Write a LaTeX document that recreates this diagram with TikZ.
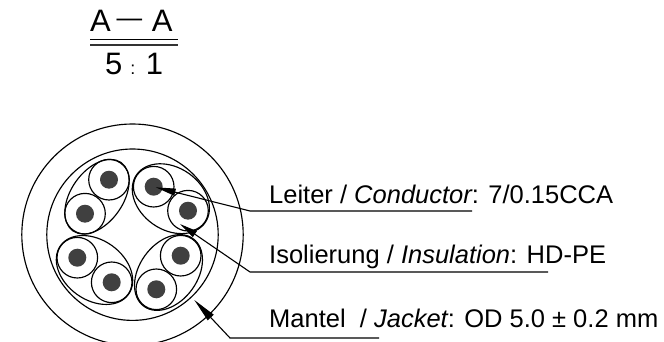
\documentclass[tikz,border=0pt]{standalone}
\usepackage{fontspec}
\setmainfont{Liberation Sans}
\usetikzlibrary{arrows.meta}
\tikzset{
  wire/.style={line width=1.15pt,draw=black},
  cond/.style={fill=black!75,draw=none},
  leader/.style={line width=1.1pt,draw=black},
  label/.style={anchor=base west,inner sep=0pt,font=\fontsize{25.5}{28}\selectfont},
  big/.style={anchor=base west,inner sep=0pt,font=\fontsize{31}{34}\selectfont}
}
\newcommand{\wirepair}[6]{%
  \fill[cond] (#1,#2) circle (9pt);
  \fill[cond] (#3,#4) circle (9pt);
  \draw[wire] (#1,#2) circle (20.3pt);
  \draw[wire] (#3,#4) circle (20.3pt);
  \draw[wire,rotate around={#5:({(#1+#3)/2},{(#2+#4)/2})}] ({(#1+#3)/2},{(#2+#4)/2}) ellipse (41.8pt and #6pt);
}
\begin{document}
\begin{tikzpicture}[x=1pt,y=-1pt]
\useasboundingbox (0,0) rectangle (664,342);
% title
\node[big] (titleA) at (90,31.7) {A\hspace{5.7pt}\raisebox{5pt}{\fontsize{25.6}{26}\selectfont —}\hspace{9.7pt}A};
\node[big] (scale) at (105,75) {5\hspace{8pt}{\fontsize{18}{18}\selectfont :}\hspace{10.5pt}1};
\coordinate (r1a) at (90,39.3); \coordinate (r1b) at (178,39.3);
\coordinate (r2a) at (90,44.7); \coordinate (r2b) at (178,44.7);
\draw[line width=1.1pt] (r1a) -- (r1b);
\draw[line width=2pt,draw=black!80] (r2a) -- (r2b);
% cable
\coordinate (c) at (132.5,234.7);
\draw[wire] (c) circle (110.7pt);
\draw[wire] (c) circle (85.7pt);
\wirepair{109}{179.7}{85}{213.7}{54.8}{26}
\wirepair{153.7}{186.7}{188}{210.7}{-35}{31}
\wirepair{77.3}{257.7}{111.7}{282.3}{-35.6}{30}
\wirepair{180.7}{255.7}{156.3}{289.3}{54}{29}
% labels
\node[label] (lc) at (269,204) {Leiter / {\itshape Conductor}: 7/0.15CCA};
\node[label] (li) at (269,263.3) {Isolierung / {\itshape Insulation}: HD-PE};
\node[label] (lj) at (269,327.7) {Mantel\ \ / {\itshape Jacket}: OD 5.0 ± 0.2 mm};
% leaders
\coordinate (tc) at (155.7,187.3); \coordinate (ec) at (250,211); \coordinate (fc) at (472,211);
\coordinate (ti) at (180,224);     \coordinate (ei) at (250,272); \coordinate (fi) at (548,272);
\coordinate (tj) at (194.3,300);   \coordinate (ej) at (230,338); \coordinate (fj) at (379,338);
\draw[leader,{Triangle[length=20pt,width=7pt]}-] (tc) -- (ec) -- (fc);
\draw[leader,{Triangle[length=18pt,width=7pt]}-] (ti) -- (ei) -- (fi);
\draw[leader,{Triangle[length=24pt,width=8pt]}-] (tj) -- (ej) -- (fj);
\end{tikzpicture}
\end{document}
